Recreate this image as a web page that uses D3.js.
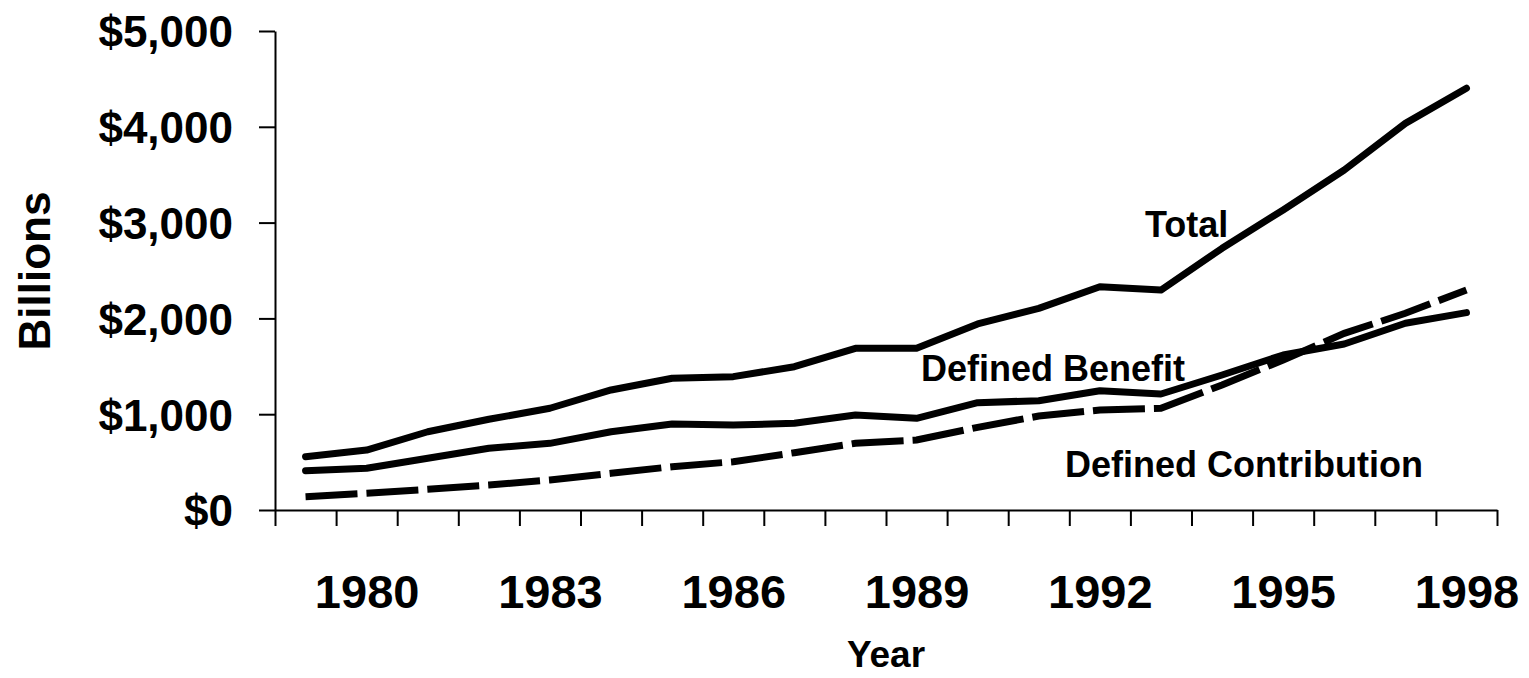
<!DOCTYPE html>
<html>
<head>
<meta charset="utf-8">
<script src="https://cdn.jsdelivr.net/npm/d3@7"></script>
<style>
  body { margin: 0; background: #fff; }
  svg text { font-family: "Liberation Sans", Arial, sans-serif; font-weight: bold; fill: #000; }
</style>
</head>
<body>
<svg id="chart" width="1529" height="678"></svg>
<script>
// pension assets by plan type, billions of dollars
var years = [1979, 1980, 1981, 1982, 1983, 1984, 1985, 1986, 1987, 1988,
             1989, 1990, 1991, 1992, 1993, 1994, 1995, 1996, 1997, 1998];
var total = [556, 626, 817, 947, 1062, 1253, 1375, 1392, 1496, 1688,
             1688, 1942, 2105, 2331, 2296, 2732, 3132, 3549, 4036, 4402];
var definedBenefit = [410, 435, 540, 644, 696, 817, 898, 887, 905, 992,
                      957, 1120, 1141, 1245, 1211, 1409, 1618, 1733, 1949, 2060];
var definedContribution = [139, 174, 216, 261, 313, 383, 452, 504, 598, 696,
                           731, 863, 981, 1044, 1062, 1305, 1566, 1844, 2053, 2296];
var yTicks = [0, 1000, 2000, 3000, 4000, 5000];
var yearLabels = [1980, 1983, 1986, 1989, 1992, 1995, 1998];

var svg = d3.select("#chart");
var plotLeft = 275, plotRight = 1497, plotTop = 31, plotBottom = 510;

// years sit in the middle of each category slot
var xScale = d3.scaleLinear()
    .domain([years[0] - 0.5, years[years.length - 1] + 0.5])
    .range([plotLeft, plotRight]);

var yScale = d3.scaleLinear()
    .domain([0, 5000])
    .range([plotBottom, plotTop]);

// y axis
var yAxis = d3.axisLeft(yScale)
    .tickValues(yTicks)
    .tickSize(16)
    .tickSizeOuter(0)
    .tickPadding(26)
    .tickFormat(function(d) { return "$" + d3.format(",")(d); });

var yg = svg.append("g")
    .attr("transform", "translate(" + plotLeft + ",0)")
    .call(yAxis);
yg.selectAll("text").style("font-size", "44px").attr("dy", "0.36em");

// x axis: ticks on the slot boundaries
var bounds = [];
for (var i = 0; i <= years.length; i++) bounds.push(years[0] - 0.5 + i);

var xAxis = d3.axisBottom(xScale)
    .tickValues(bounds)
    .tickSize(16)
    .tickSizeOuter(0)
    .tickFormat("");

svg.append("g")
    .attr("transform", "translate(0," + plotBottom + ")")
    .call(xAxis);

// year labels every third year
var labelAxis = d3.axisBottom(xScale)
    .tickValues(yearLabels)
    .tickSize(0)
    .tickPadding(0)
    .tickFormat(d3.format("d"));

var lg = svg.append("g")
    .attr("transform", "translate(0,608)")
    .call(labelAxis);
lg.select(".domain").remove();
lg.selectAll("text").attr("dy", 0).style("font-size", "47px");

svg.selectAll(".domain, .tick line")
    .attr("stroke", "#000")
    .attr("stroke-width", 2);

// lines
var line = d3.line()
    .x(function(d, i) { return xScale(years[i]); })
    .y(function(d) { return yScale(d); });

svg.append("path")
    .datum(total)
    .attr("d", line)
    .attr("fill", "none")
    .attr("stroke", "#000")
    .attr("stroke-width", 7)
    .attr("stroke-linecap", "round")
    .attr("stroke-linejoin", "round");

svg.append("path")
    .datum(definedBenefit)
    .attr("d", line)
    .attr("fill", "none")
    .attr("stroke", "#000")
    .attr("stroke-width", 7)
    .attr("stroke-linecap", "round")
    .attr("stroke-linejoin", "round");

svg.append("path")
    .datum(definedContribution)
    .attr("d", line)
    .attr("fill", "none")
    .attr("stroke", "#000")
    .attr("stroke-width", 7)
    .attr("stroke-dasharray", "52,9");

// series labels
svg.append("text").attr("x", 1145).attr("y", 237)
    .style("font-size", "36px").text("Total");
svg.append("text").attr("x", 921).attr("y", 381)
    .style("font-size", "36px").text("Defined Benefit");
svg.append("text").attr("x", 1065).attr("y", 477)
    .style("font-size", "36px").text("Defined Contribution");

// axis titles
svg.append("text")
    .attr("x", 886).attr("y", 667)
    .attr("text-anchor", "middle")
    .style("font-size", "37px")
    .text("Year");

svg.append("text")
    .attr("transform", "translate(50,271) rotate(-90)")
    .attr("text-anchor", "middle")
    .style("font-size", "44px")
    .text("Billions");
</script>
</body>
</html>
